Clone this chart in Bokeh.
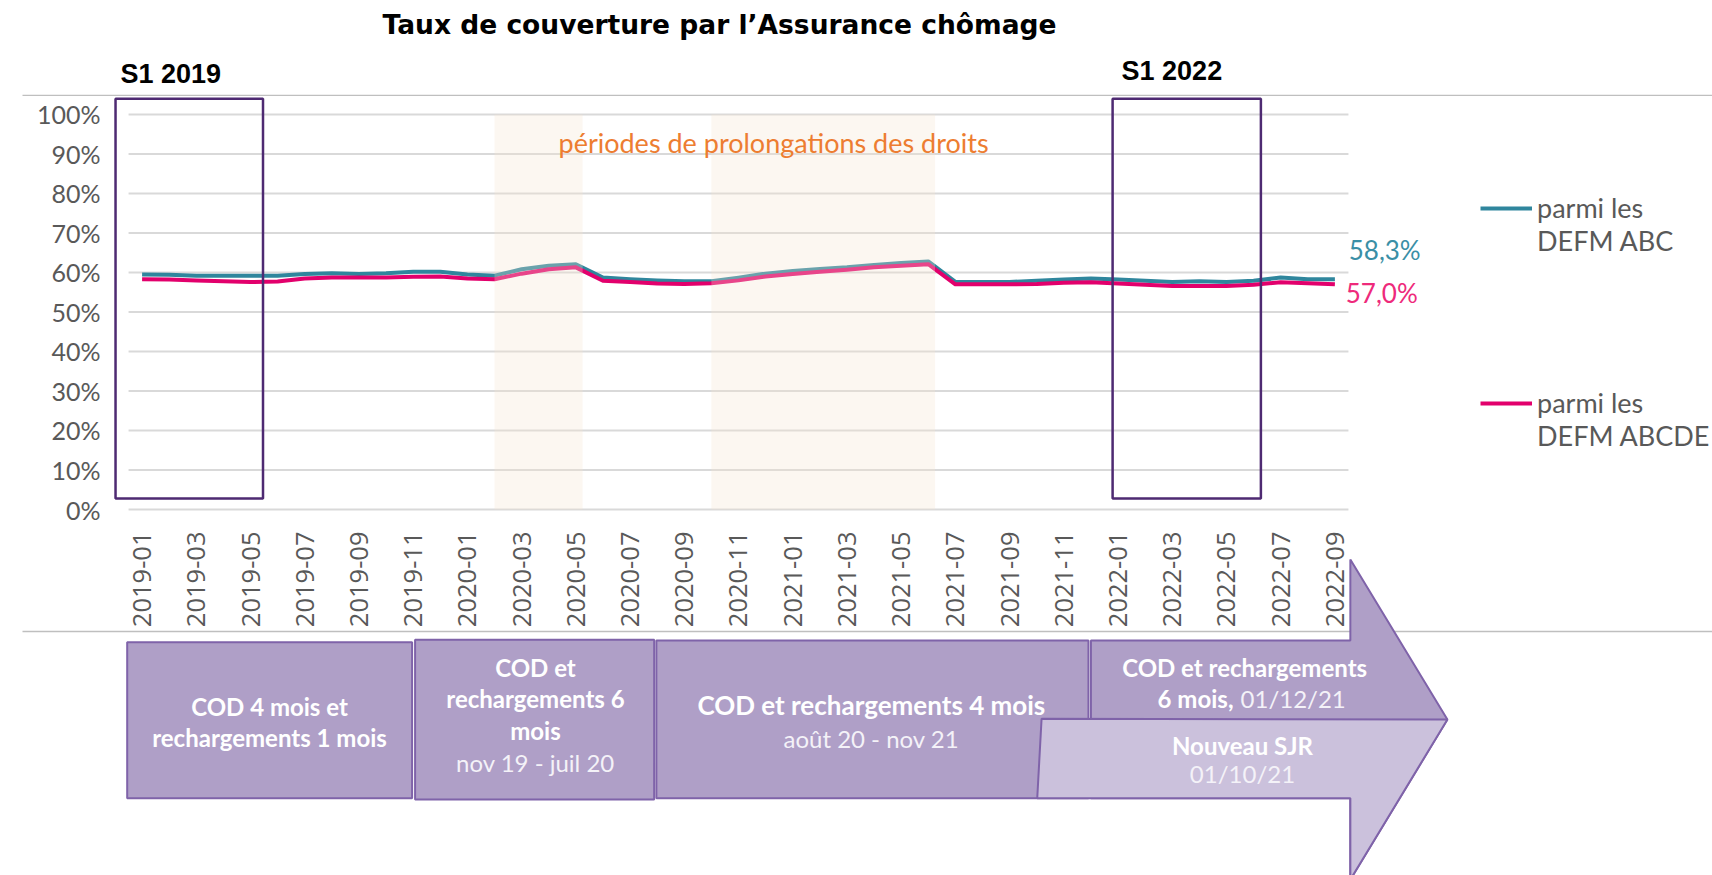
import math
from bokeh.plotting import figure
from bokeh.layouts import column, row
from bokeh.models import Range1d, FixedTicker, Legend, LegendItem, Label
from bokeh.embed import file_html
from bokeh.resources import INLINE

# ---------------- data ----------------
months = ["2019-01", "2019-02", "2019-03", "2019-04", "2019-05", "2019-06", "2019-07", "2019-08",
          "2019-09", "2019-10", "2019-11", "2019-12", "2020-01", "2020-02", "2020-03", "2020-04",
          "2020-05", "2020-06", "2020-07", "2020-08", "2020-09", "2020-10", "2020-11", "2020-12",
          "2021-01", "2021-02", "2021-03", "2021-04", "2021-05", "2021-06", "2021-07", "2021-08",
          "2021-09", "2021-10", "2021-11", "2021-12", "2022-01", "2022-02", "2022-03", "2022-04",
          "2022-05", "2022-06", "2022-07", "2022-08", "2022-09"]

abc = [59.5, 59.4, 59.2, 59.2, 59.2, 59.2, 59.6, 59.8, 59.6, 59.8, 60.2, 60.2, 59.5, 59.2,
       60.8, 61.7, 62.1, 58.7, 58.3, 58.0, 57.8, 57.8, 58.7, 59.7, 60.4, 60.9, 61.3, 61.9,
       62.4, 62.8, 57.6, 57.6, 57.6, 57.9, 58.2, 58.5, 58.2, 57.9, 57.6, 57.8, 57.6, 57.9,
       58.7, 58.3, 58.3]

abcde = [58.3, 58.2, 58.0, 57.8, 57.6, 57.7, 58.5, 58.7, 58.7, 58.7, 58.9, 59.0, 58.5, 58.3,
         59.7, 60.8, 61.3, 57.9, 57.6, 57.2, 57.1, 57.3, 58.0, 59.0, 59.6, 60.2, 60.7, 61.3,
         61.7, 62.1, 57.0, 57.0, 57.0, 57.1, 57.4, 57.5, 57.2, 56.9, 56.6, 56.6, 56.6, 56.9,
         57.5, 57.3, 57.0]

y_ticks = [0, 10, 20, 30, 40, 50, 60, 70, 80, 90, 100]
x_tick_idx = list(range(0, len(months), 2))

# periods of extended rights (month-index span)
shade_start = [13.0, 21.0]
shade_end = [16.25, 29.25]

series_names = ["parmi les\nDEFM ABC", "parmi les\nDEFM ABCDE"]
title_text = "Taux de couverture par l\u2019Assurance chômage"

# ---------------- style ----------------
TEAL = "#2F869D"
PINK = "#E2006C"
GRAY_TXT = "#595959"
BOX_PURPLE = "#4E2A72"
LAV = "#AF9FC7"
LAV_LIGHT = "#CBC1DC"
LAV_EDGE = "#7F63A9"
SEP = "#BFBFBF"

idx = list(range(len(months)))

X0, X1 = -5.2234, 57.929          # month-index span of the full page width
Y_T_TOP, Y_A_TOP, Y_A_BOT, Y_B_BOT = 117.68, 104.545, -0.505, -92.17


def bare(width, height, xr, yr, top=0):
    f = figure(width=width, height=height, output_backend="svg", toolbar_location=None,
               x_range=Range1d(*xr), y_range=Range1d(*yr),
               x_axis_location=None, y_axis_location=None,
               min_border_left=0, min_border_right=0, min_border_top=top, min_border_bottom=0)
    f.outline_line_color = None
    f.grid.visible = False
    return f


# ---------- T: title strip ----------
T = bare(1712, 96, (X0, X1), (Y_A_TOP, Y_T_TOP), top=44)
T.background_fill_color = "white"
T.border_fill_color = "white"
T.title.text = title_text
T.title.align = "left"
T.title.offset = 382
T.title.text_font = "DejaVu Sans"
T.title.text_font_style = "bold"
T.title.text_font_size = "26.5px"
T.title.text_color = "black"
for x, y, t in [(-0.797, 110.35, "S1 2019"), (36.13, 111.1, "S1 2022")]:
    T.add_layout(Label(x=x, y=y, text=t, text_font="Liberation Sans", text_font_style="bold",
                       text_font_size="27px", text_color="black", text_baseline="middle"))
T.segment(x0=[-4.412], x1=[X1], y0=[104.80], y1=[104.80], line_color=SEP, line_width=1.5)

# ---------- A: main chart ----------
A = figure(width=1712, height=534, output_backend="svg", toolbar_location=None,
           x_range=Range1d(-1.2394, X1), y_range=Range1d(Y_A_BOT, Y_A_TOP),
           min_border_left=108, min_border_right=0, min_border_top=0, min_border_bottom=118)
A.outline_line_color = None
A.xgrid.visible = False
A.ygrid.visible = False

A.yaxis.ticker = FixedTicker(ticks=y_ticks)
A.yaxis.major_label_overrides = {t: f"{t}%" for t in y_ticks}
A.yaxis.axis_line_color = None
A.yaxis.major_tick_line_color = None
A.yaxis.minor_tick_line_color = None
A.yaxis.major_tick_out = 0
A.yaxis.major_tick_in = 0
A.yaxis.major_label_standoff = 8
A.yaxis.major_label_text_font = "Lato"
A.yaxis.major_label_text_font_size = "25px"
A.yaxis.major_label_text_color = GRAY_TXT

A.xaxis.ticker = FixedTicker(ticks=x_tick_idx)
A.xaxis.major_label_overrides = {i: months[i] for i in x_tick_idx}
A.xaxis.major_label_orientation = math.pi / 2
A.xaxis.axis_line_color = None
A.xaxis.major_tick_line_color = None
A.xaxis.minor_tick_line_color = None
A.xaxis.major_tick_out = 0
A.xaxis.major_tick_in = 0
A.xaxis.major_label_standoff = 20
A.xaxis.major_label_text_font = "Open Sans"
A.xaxis.major_label_text_font_size = "25.5px"
A.xaxis.major_label_text_color = GRAY_TXT

n = len(y_ticks)
A.segment(x0=[-0.5] * n, x1=[len(months) - 0.5] * n, y0=y_ticks, y1=y_ticks,
          line_color="#D9D9D9", line_width=2, level="underlay")

r1 = A.line(idx, abc, line_color=TEAL, line_width=4, line_join="round")
r2 = A.line(idx, abcde, line_color=PINK, line_width=4, line_join="round")

A.quad(left=shade_start, right=shade_end, bottom=[0, 0], top=[100, 100],
       fill_color=(245, 228, 208), fill_alpha=0.3, line_color=None, level="overlay")
A.add_layout(Label(x=15.36, y=92.9, text="périodes de prolongations des droits",
                   text_font="Lato", text_font_size="27px", text_color="#ED7D31",
                   text_baseline="middle", text_align="left", level="overlay"))

A.quad(left=[-0.98, 35.8], right=[4.46, 41.27], bottom=[2.8, 2.8], top=[104.0, 104.0],
       fill_color=None, line_color=BOX_PURPLE, line_width=2.5)


def fr(v):
    return f"{v:.1f}%".replace(".", ",")


A.add_layout(Label(x=44.51, y=65.66, text=fr(abc[-1]), text_font="Lato", text_font_size="26px",
                   text_color="#3A8FA6", text_baseline="middle"))
A.add_layout(Label(x=44.40, y=54.8, text=fr(abcde[-1]), text_font="Lato", text_font_size="26px",
                   text_color="#EE2A7B", text_baseline="middle"))

legend = Legend(items=[LegendItem(label="\n" + series_names[0], renderers=[r1]),
                       LegendItem(label="\n" + series_names[1], renderers=[r2])],
                location=(1372, 59), glyph_width=52, glyph_height=20, label_standoff=5,
                spacing=96, padding=0, margin=0, border_line_color=None,
                background_fill_alpha=0, label_text_font="Lato", label_text_font_size="27px",
                label_text_line_height=1.52, label_text_color=GRAY_TXT)
A.add_layout(legend)

# ---------- B: timeline strip (overlaps the x-axis band of A, transparent) ----------
B = bare(1712, 363, (X0, X1), (Y_B_BOT, Y_A_BOT))
B.background_fill_alpha = 0
B.border_fill_alpha = 0
B.margin = (-118, 0, 0, 0)

B.segment(x0=[-4.412], x1=[X1], y0=[-30.56], y1=[-30.56], line_color=SEP, line_width=1.5)

B.patch([-0.55, 9.96, 9.96, -0.55], [-33.26, -33.26, -72.65, -72.65],
        fill_color=LAV, line_color=LAV_EDGE, line_width=2)
B.patch([10.07, 18.89, 18.89, 10.07], [-32.65, -32.65, -72.98, -72.98],
        fill_color=LAV, line_color=LAV_EDGE, line_width=2)
B.patch([18.97, 34.91, 34.91, 18.97], [-32.83, -32.83, -72.65, -72.65],
        fill_color=LAV, line_color=LAV_EDGE, line_width=2)
B.patch([35.0, 44.57, 44.57, 48.15, 44.57, 44.57, 35.0],
        [-32.83, -32.83, -12.37, -52.78, -93.2, -72.65, -72.65],
        fill_color=LAV, line_color=LAV_EDGE, line_width=2)
B.patch([33.18, 48.15, 44.57, 44.57, 33.02], [-52.6, -52.78, -93.2, -72.65, -72.65],
        fill_color=LAV_LIGHT, line_color=LAV_EDGE, line_width=2)


def txt(x, y, t, bold=True, align="center", size="24px", color="white"):
    B.add_layout(Label(x=x, y=y, text=t, text_font="Lato",
                       text_font_style="bold" if bold else "normal",
                       text_font_size=size, text_color=color, text_align=align,
                       text_baseline="middle"))


SUB = "#F4F2F8"
txt(4.70, -49.5, "COD 4 mois et")
txt(4.70, -57.2, "rechargements 1 mois")
txt(14.51, -39.57, "COD et")
txt(14.51, -47.55, "rechargements 6")
txt(14.51, -55.56, "mois")
txt(14.51, -63.56, "nov 19 - juil 20", bold=False, color=SUB)
txt(26.9, -48.99, "COD et rechargements 4 mois", size="26px")
txt(26.9, -57.58, "août 20 - nov 21", bold=False, color=SUB)
txt(40.67, -39.72, "COD et rechargements")
txt(40.26, -47.55, "6 mois,", align="right")
txt(40.52, -47.55, "01/12/21", bold=False, align="left", color=SUB)
txt(40.59, -59.34, "Nouveau SJR")
txt(40.59, -66.49, "01/10/21", bold=False, color=SUB)

# A is wrapped in its own row so that the strips above/below keep full-width frames
layout = column(T, row(A), B)
open("out.html", "w").write(file_html(layout, INLINE))
